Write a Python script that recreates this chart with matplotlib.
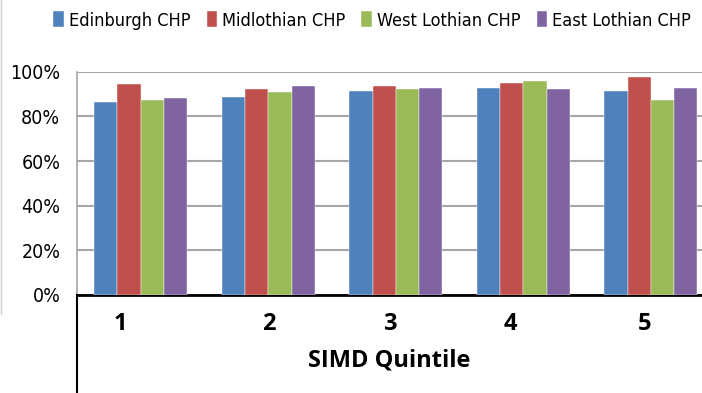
import matplotlib
matplotlib.use("Agg")

import matplotlib.pyplot as plt
from matplotlib import font_manager
from matplotlib.lines import Line2D
import numpy as np

quintiles = ["1", "2", "3", "4", "5"]
series_names = ["Edinburgh CHP", "Midlothian CHP", "West Lothian CHP", "East Lothian CHP"]
edinburgh = [0.866, 0.887, 0.915, 0.928, 0.915]
midlothian = [0.943, 0.921, 0.936, 0.949, 0.976]
west_lothian = [0.873, 0.908, 0.921, 0.957, 0.873]
east_lothian = [0.881, 0.936, 0.928, 0.921, 0.928]
y_ticks = [0, 0.2, 0.4, 0.6, 0.8, 1.0]
y_tick_labels = ["0%", "20%", "40%", "60%", "80%", "100%"]

colors = ["#4F81BD", "#C0504D", "#9BBB59", "#8064A2"]

narrow = font_manager.FontProperties(family="DejaVu Sans", stretch="condensed", size=14)
narrow_leg = font_manager.FontProperties(family="DejaVu Sans", stretch="condensed", size=13)

fig = plt.figure(figsize=(7.02, 3.93), dpi=100)
ax = fig.add_axes([0.1097, 0.2494, 0.9083, 0.5682])

x = np.arange(len(quintiles))
width = 0.1825
all_series = [edinburgh, midlothian, west_lothian, east_lothian]
for i, (vals, name) in enumerate(zip(all_series, series_names)):
    ax.bar(x + (i - 1.5) * width, vals, width, color=colors[i], label=name,
           edgecolor="white", linewidth=0.3, zorder=3)

ax.set_xlim(-0.5, 4.5)
ax.set_ylim(0, 1.0)
ax.set_yticks(y_ticks)
ax.set_yticklabels(y_tick_labels, fontproperties=narrow)
ax.yaxis.grid(True, color="#a6a6a6", linewidth=1.5, zorder=0)
ax.tick_params(axis="y", length=0, pad=12)

# quintile labels sit a little left of the group centres
label_shift = [-0.16, 0.0, -0.05, -0.1, -0.05]
ax.set_xticks(x + np.array(label_shift))
ax.set_xticklabels(quintiles, fontsize=17, fontweight="bold", family="Open Sans")
ax.tick_params(axis="x", length=0, pad=12)
ax.set_xlabel("SIMD Quintile", fontsize=17, fontweight="bold", family="Open Sans")
ax.xaxis.set_label_coords(0.49, -0.24)

for side in ["top", "right"]:
    ax.spines[side].set_visible(False)
ax.spines["left"].set_color("#a6a6a6")
ax.spines["left"].set_linewidth(1.2)
ax.spines["bottom"].set_color("black")
ax.spines["bottom"].set_linewidth(2)

# box round the category area
fig.add_artist(Line2D([0.1097, 0.1097], [0.0, 0.2494], color="black", linewidth=1.5))
fig.add_artist(Line2D([0.0015, 0.0015], [0.2, 1.0], color="#d0d0d0", linewidth=1))

leg = fig.legend(loc="center", bbox_to_anchor=(0.53, 0.948), ncol=4, frameon=False,
                 prop=narrow_leg, handlelength=0.6,
                 handleheight=1.0, handletextpad=0.25, columnspacing=0.9)

plt.savefig("out.png", dpi=100)
